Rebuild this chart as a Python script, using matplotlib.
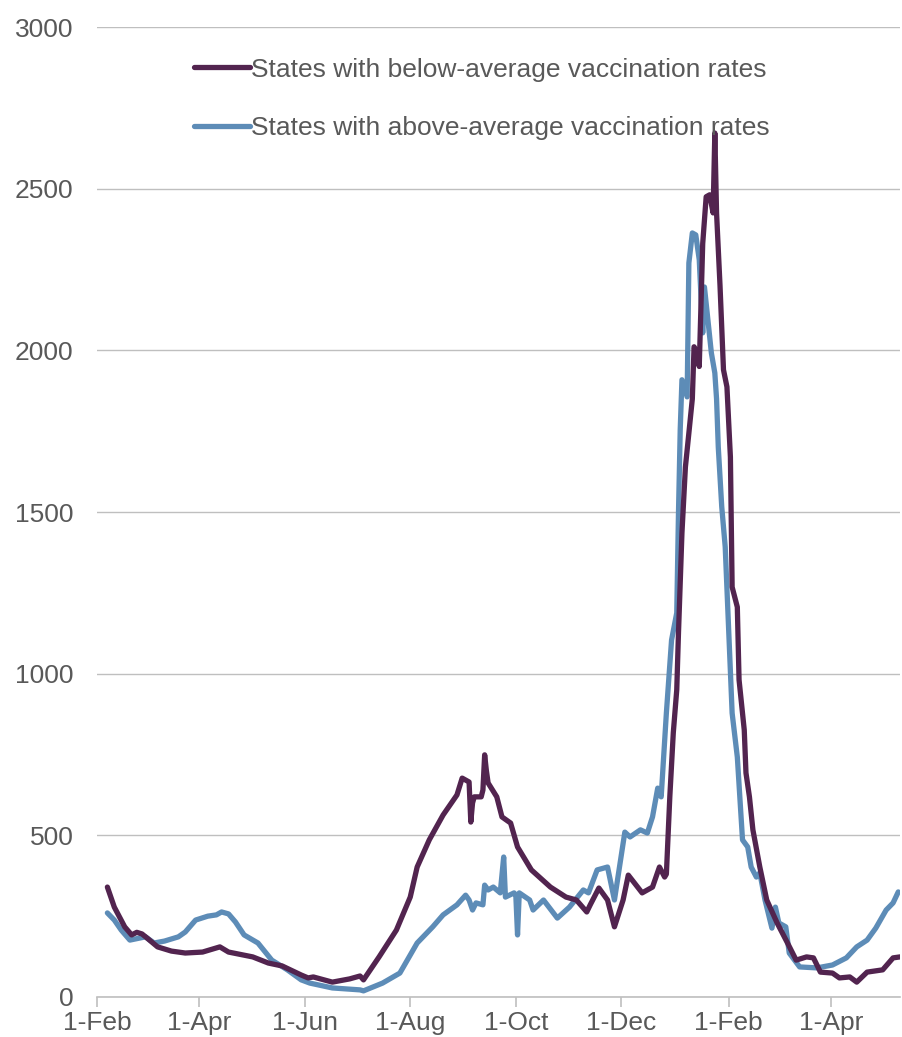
"""
Hospital admissions by state vaccination rate, Feb 2021 - May 2022.
"""
import pandas as pd
import matplotlib
matplotlib.use("Agg")
import matplotlib.pyplot as plt

START = pd.Timestamp("2021-02-01")

# days since 1-Feb-2021 and values
below_days = [6, 10, 16, 20, 23, 26, 29, 35, 43, 51, 61, 71, 76, 90, 99, 107,
              118, 122, 125, 136, 146, 152, 154, 163, 173, 181, 185, 192, 200,
              208, 211, 215, 216, 217, 218, 222, 223, 224, 225, 226, 231, 234,
              239, 243, 251, 262, 271, 277, 283, 285, 290, 295, 299, 304, 307,
              315, 321, 325, 328, 329, 331, 333, 335, 336, 338, 340, 342, 344,
              345, 347, 348, 350, 352, 354, 356, 357, 358, 360, 362, 364, 366,
              367, 370, 371, 374, 375, 377, 379, 383, 387, 393, 399, 404, 410,
              414, 418, 425, 429, 435, 439, 445, 454, 460, 464]
below_vals = [340, 278, 217, 192, 200, 195, 182, 155, 142, 136, 139, 155, 139,
              124, 105, 96, 68, 59, 62, 46, 56, 65, 53, 124, 207, 309, 402, 486,
              563, 625, 677, 665, 541, 600, 619, 619, 640, 749, 700, 662, 619,
              557, 538, 464, 393, 340, 309, 300, 263, 285, 337, 300, 217, 300,
              377, 322, 340, 402, 371, 380, 620, 817, 950, 1126, 1435, 1639,
              1744, 1850, 2011, 1990, 1950, 2330, 2475, 2481, 2425, 2672, 2425,
              2200, 1940, 1887, 1670, 1268, 1206, 981, 826, 693, 619, 517, 402,
              300, 229, 167, 114, 124, 121, 77, 74, 59, 62, 46, 77, 84, 121, 124]

above_days = [6, 10, 14, 19, 28, 33, 39, 47, 51, 57, 64, 69, 72, 76, 80, 85,
              93, 101, 110, 118, 123, 136, 152, 154, 165, 175, 185, 194, 200,
              208, 213, 215, 217, 219, 223, 224, 226, 229, 233, 235, 236, 241,
              242, 243, 244, 250, 252, 258, 266, 273, 281, 284, 289, 295, 299,
              305, 308, 314, 318, 321, 324, 326, 329, 332, 335, 336, 337, 338,
              341, 342, 344, 346, 348, 350, 351, 355, 357, 358, 359, 361, 363,
              365, 367, 370, 373, 376, 378, 381, 383, 386, 390, 392, 394, 398,
              400, 406, 416, 425, 433, 439, 445, 450, 456, 460, 463]
above_vals = [260, 238, 207, 176, 186, 167, 173, 186, 201, 238, 250, 254, 263,
              257, 232, 192, 167, 114, 84, 53, 43, 28, 22, 19, 43, 74, 167, 217,
              254, 285, 315, 300, 269, 291, 285, 346, 331, 340, 322, 433, 309,
              322, 316, 192, 322, 300, 269, 300, 244, 278, 331, 322, 393, 402,
              300, 510, 495, 517, 507, 557, 646, 619, 878, 1104, 1188, 1497,
              1754, 1909, 1856, 2270, 2363, 2357, 2280, 2054, 2196, 1992, 1930,
              1850, 1700, 1516, 1392, 1135, 878, 742, 486, 464, 402, 371, 384,
              300, 213, 278, 229, 217, 136, 93, 90, 99, 121, 155, 176, 213, 269,
              291, 325]

tick_dates = ["2021-02-01", "2021-04-01", "2021-06-01", "2021-08-01",
              "2021-10-01", "2021-12-01", "2022-02-01", "2022-04-01"]
tick_labels = ["1-Feb", "1-Apr", "1-Jun", "1-Aug", "1-Oct", "1-Dec",
               "1-Feb", "1-Apr"]

PURPLE = "#52244f"
BLUE = "#5d8cb7"
GREY = "#595959"
FS = 19

plt.rcParams["font.family"] = ["Liberation Sans", "DejaVu Sans"]

fig = plt.figure(figsize=(9.02, 10.37), dpi=100)
ax = fig.add_axes([97 / 902, 1 - 997 / 1037, 803 / 902, 970 / 1037])

below_x = START + pd.to_timedelta(below_days, unit="D")
above_x = START + pd.to_timedelta(above_days, unit="D")

ax.plot(below_x, below_vals, color=PURPLE, lw=3.8,
        solid_joinstyle="round", solid_capstyle="round",
        label="States with below-average vaccination rates", zorder=3)
ax.plot(above_x, above_vals, color=BLUE, lw=3.8,
        solid_joinstyle="round", solid_capstyle="round",
        label="States with above-average vaccination rates", zorder=2)

ax.set_ylim(0, 3000)
ax.set_yticks(range(0, 3001, 500))
ax.set_xlim(START, START + pd.Timedelta(days=464))
ax.set_xticks(pd.to_datetime(tick_dates))
ax.set_xticklabels(tick_labels)

ax.grid(axis="y", color="#bfbfbf", lw=1)
ax.set_axisbelow(True)
for side in ("left", "right", "top"):
    ax.spines[side].set_visible(False)
ax.spines["bottom"].set_color("#bfbfbf")
ax.spines["bottom"].set_linewidth(1.2)
ax.tick_params(axis="y", length=0, labelsize=FS, labelcolor=GREY, pad=17)
ax.tick_params(axis="x", length=7, width=1.2, color="#bfbfbf",
               labelsize=FS, labelcolor=GREY, pad=3)

leg = ax.legend(loc="center", bbox_to_anchor=(0.4795, 0.926), frameon=False,
                fontsize=FS, handlelength=2.1, handletextpad=0.05,
                labelspacing=1.3)
for t in leg.get_texts():
    t.set_color(GREY)

fig.savefig("out.png", dpi=100)
